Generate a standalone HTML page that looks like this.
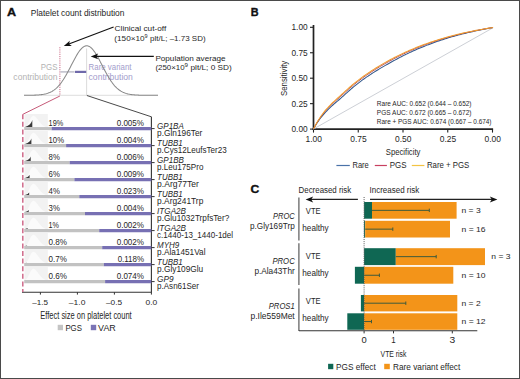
<!DOCTYPE html>
<html><head><meta charset="utf-8"><style>
html,body{margin:0;padding:0;background:#fff;}
svg{display:block;font-family:"Liberation Sans", sans-serif;}
</style></head><body>
<svg width="520" height="379" viewBox="0 0 520 379">
<rect x="0" y="0" width="520" height="379" fill="#fff"/>
<text x="6.94" y="16.30" font-size="11.2" fill="#111" textLength="9.12" lengthAdjust="spacingAndGlyphs" font-weight="bold" stroke="#111" stroke-width="0.35">A</text>
<text x="30.82" y="15.60" font-size="8.6" fill="#262626" textLength="93.61" lengthAdjust="spacingAndGlyphs" >Platelet count distribution</text>
<text x="40.79" y="70.30" font-size="8.2" fill="#b3b3b3" textLength="16.72" lengthAdjust="spacingAndGlyphs" >PGS</text>
<text x="13.39" y="80.00" font-size="8.2" fill="#b3b3b3" textLength="44.12" lengthAdjust="spacingAndGlyphs" >contribution</text>
<text x="88.59" y="70.00" font-size="8.2" fill="#a29dcc" textLength="42.92" lengthAdjust="spacingAndGlyphs" >Rare variant</text>
<text x="88.59" y="79.60" font-size="8.2" fill="#a29dcc" textLength="44.32" lengthAdjust="spacingAndGlyphs" >contribution</text>
<line x1="24.00" y1="95.30" x2="158.00" y2="95.30" stroke="#d9d9d9" stroke-width="0.9" />
<line x1="86.60" y1="48.50" x2="86.60" y2="95.30" stroke="#d8d8d8" stroke-width="0.9" />
<line x1="59.90" y1="47.20" x2="59.90" y2="95.30" stroke="#c96582" stroke-width="1.0" stroke-dasharray="1.1,1.1"/>
<line x1="60.40" y1="71.90" x2="74.60" y2="71.90" stroke="#b9b9c6" stroke-width="1.4" />
<line x1="75.00" y1="71.90" x2="86.20" y2="71.90" stroke="#6f69aa" stroke-width="2.2" />
<path d="M24.00,95.29 L24.67,95.29 L25.35,95.28 L26.02,95.28 L26.69,95.28 L27.37,95.27 L28.04,95.27 L28.71,95.26 L29.39,95.25 L30.06,95.24 L30.73,95.23 L31.41,95.22 L32.08,95.21 L32.75,95.19 L33.43,95.18 L34.10,95.16 L34.77,95.13 L35.45,95.11 L36.12,95.07 L36.79,95.04 L37.47,95.00 L38.14,94.96 L38.81,94.91 L39.49,94.85 L40.16,94.79 L40.83,94.71 L41.51,94.63 L42.18,94.54 L42.85,94.44 L43.53,94.33 L44.20,94.20 L44.87,94.06 L45.55,93.91 L46.22,93.74 L46.89,93.55 L47.57,93.34 L48.24,93.11 L48.91,92.86 L49.59,92.59 L50.26,92.29 L50.93,91.96 L51.61,91.61 L52.28,91.23 L52.95,90.81 L53.63,90.37 L54.30,89.89 L54.97,89.37 L55.65,88.82 L56.32,88.23 L56.99,87.60 L57.67,86.93 L58.34,86.22 L59.02,85.46 L59.69,84.67 L60.36,83.83 L61.04,82.95 L61.71,82.03 L62.38,81.07 L63.06,80.07 L63.73,79.03 L64.40,77.95 L65.08,76.83 L65.75,75.68 L66.42,74.50 L67.10,73.29 L67.77,72.05 L68.44,70.79 L69.12,69.51 L69.79,68.21 L70.46,66.91 L71.14,65.60 L71.81,64.28 L72.48,62.98 L73.16,61.68 L73.83,60.39 L74.50,59.13 L75.18,57.89 L75.85,56.68 L76.52,55.51 L77.20,54.38 L77.87,53.30 L78.54,52.28 L79.22,51.31 L79.89,50.41 L80.56,49.58 L81.24,48.82 L81.91,48.14 L82.58,47.54 L83.26,47.02 L83.93,46.59 L84.60,46.26 L85.28,46.01 L85.95,45.86 L86.62,45.80 L87.30,45.84 L87.97,45.97 L88.64,46.19 L89.32,46.51 L89.99,46.92 L90.66,47.41 L91.34,47.99 L92.01,48.66 L92.68,49.40 L93.36,50.22 L94.03,51.10 L94.70,52.05 L95.38,53.07 L96.05,54.13 L96.72,55.25 L97.40,56.41 L98.07,57.61 L98.74,58.84 L99.42,60.10 L100.09,61.38 L100.76,62.68 L101.44,63.99 L102.11,65.30 L102.78,66.61 L103.46,67.92 L104.13,69.21 L104.80,70.50 L105.48,71.76 L106.15,73.01 L106.82,74.22 L107.50,75.41 L108.17,76.57 L108.84,77.70 L109.52,78.78 L110.19,79.84 L110.86,80.85 L111.54,81.82 L112.21,82.75 L112.88,83.64 L113.56,84.48 L114.23,85.29 L114.90,86.05 L115.58,86.77 L116.25,87.45 L116.92,88.09 L117.60,88.69 L118.27,89.25 L118.94,89.77 L119.62,90.26 L120.29,90.71 L120.96,91.14 L121.64,91.52 L122.31,91.88 L122.98,92.22 L123.66,92.52 L124.33,92.80 L125.01,93.06 L125.68,93.29 L126.35,93.50 L127.03,93.69 L127.70,93.87 L128.37,94.03 L129.05,94.17 L129.72,94.30 L130.39,94.42 L131.07,94.52 L131.74,94.61 L132.41,94.70 L133.09,94.77 L133.76,94.84 L134.43,94.89 L135.11,94.95 L135.78,94.99 L136.45,95.03 L137.13,95.07 L137.80,95.10 L138.47,95.13 L139.15,95.15 L139.82,95.17 L140.49,95.19 L141.17,95.20 L141.84,95.22 L142.51,95.23 L143.19,95.24 L143.86,95.25 L144.53,95.26 L145.21,95.26 L145.88,95.27 L146.55,95.27 L147.23,95.28 L147.90,95.28 L148.57,95.28 L149.25,95.29 L149.92,95.29 L150.59,95.29 L151.27,95.29 L151.94,95.29 L152.61,95.29 L153.29,95.30 L153.96,95.30 L154.63,95.30 L155.31,95.30 L155.98,95.30 L156.65,95.30 L157.33,95.30 L158.00,95.30" fill="none" stroke="#8a8a8a" stroke-width="1.05" />
<line x1="113.60" y1="26.90" x2="67.53" y2="44.57" stroke="#111" stroke-width="1.1" />
<path d="M63.80,46.00 L69.80,40.70 L69.05,43.99 L71.81,45.93 Z" fill="#111" stroke="none" stroke-width="1" />
<line x1="153.80" y1="56.40" x2="94.70" y2="56.40" stroke="#111" stroke-width="1.1" />
<path d="M90.70,56.40 L98.20,53.60 L96.33,56.40 L98.20,59.20 Z" fill="#111" stroke="none" stroke-width="1" />
<text x="114.60" y="30.60" font-size="8.0" fill="#262626" textLength="51.60" lengthAdjust="spacingAndGlyphs" >Clinical cut-off</text>
<text x="114.30" y="40.70" font-size="8.0" fill="#262626" textLength="30.30" lengthAdjust="spacingAndGlyphs" >(150×10</text>
<text x="144.43" y="38.00" font-size="5.4" fill="#262626" textLength="3.04" lengthAdjust="spacingAndGlyphs" >9</text>
<text x="150.10" y="40.70" font-size="8.0" fill="#262626" textLength="55.50" lengthAdjust="spacingAndGlyphs" >plt/L; –1.73 SD)</text>
<text x="155.40" y="61.10" font-size="8.0" fill="#262626" textLength="70.10" lengthAdjust="spacingAndGlyphs" >Population average</text>
<text x="155.40" y="69.60" font-size="8.0" fill="#262626" textLength="29.20" lengthAdjust="spacingAndGlyphs" >(250×10</text>
<text x="184.43" y="66.90" font-size="5.4" fill="#262626" textLength="3.44" lengthAdjust="spacingAndGlyphs" >9</text>
<text x="190.50" y="69.60" font-size="8.0" fill="#262626" textLength="41.30" lengthAdjust="spacingAndGlyphs" >plt/L; 0 SD)</text>
<line x1="59.90" y1="96.00" x2="23.10" y2="114.20" stroke="#c65a78" stroke-width="1.0" />
<line x1="86.90" y1="95.50" x2="151.40" y2="116.80" stroke="#4a4a4a" stroke-width="1.0" />
<line x1="151.40" y1="116.80" x2="151.40" y2="292.20" stroke="#333" stroke-width="1.1" />
<line x1="22.00" y1="292.20" x2="151.90" y2="292.20" stroke="#333" stroke-width="1.1" />
<line x1="22.80" y1="114.20" x2="22.80" y2="292.00" stroke="#cf6a8a" stroke-width="1.5" stroke-dasharray="5,2.6"/>
<line x1="40.40" y1="292.20" x2="40.40" y2="294.60" stroke="#333" stroke-width="1" />
<text x="32.21" y="305.30" font-size="7.8" fill="#262626" textLength="15.78" lengthAdjust="spacingAndGlyphs" >–1.5</text>
<line x1="77.40" y1="292.20" x2="77.40" y2="294.60" stroke="#333" stroke-width="1" />
<text x="68.81" y="305.30" font-size="7.8" fill="#262626" textLength="16.58" lengthAdjust="spacingAndGlyphs" >–1.0</text>
<line x1="114.40" y1="292.20" x2="114.40" y2="294.60" stroke="#333" stroke-width="1" />
<text x="106.01" y="305.30" font-size="7.8" fill="#262626" textLength="16.18" lengthAdjust="spacingAndGlyphs" >–0.5</text>
<line x1="151.40" y1="292.20" x2="151.40" y2="294.60" stroke="#333" stroke-width="1" />
<text x="145.51" y="305.30" font-size="7.8" fill="#262626" textLength="11.78" lengthAdjust="spacingAndGlyphs" >0.0</text>
<rect x="24.50" y="114.00" width="23.30" height="13.00" fill="#f2f2f2" />
<path d="M25,127.00 C29,125.60 30,116.10 33.5,115.80 C37,116.10 40,125.60 46,127.00 Z" fill="#fbfbfb" stroke="none" stroke-width="1" />
<path d="M25.0,127.10 Q31.30,125.00 32.30,120.10 L32.30,127.10 Z" fill="#3a3a3a" stroke="none" stroke-width="1" />
<line x1="24.20" y1="128.60" x2="51.60" y2="128.60" stroke="#c2c2c2" stroke-width="3.1" />
<line x1="51.60" y1="128.60" x2="151.40" y2="128.60" stroke="#7770b3" stroke-width="3.1" />
<line x1="151.40" y1="128.60" x2="154.60" y2="128.60" stroke="#333" stroke-width="1" />
<text x="48.58" y="126.00" font-size="8.5" fill="#262626" textLength="14.65" lengthAdjust="spacingAndGlyphs" >19%</text>
<text x="116.67" y="126.00" font-size="8.5" fill="#262626" textLength="27.35" lengthAdjust="spacingAndGlyphs" >0.005%</text>
<text x="157.09" y="128.90" font-size="8.2" fill="#262626" textLength="26.72" lengthAdjust="spacingAndGlyphs" font-style="italic" >GP1BA</text>
<text x="157.09" y="135.80" font-size="8.2" fill="#262626" textLength="45.22" lengthAdjust="spacingAndGlyphs" >p.Gln196Ter</text>
<rect x="24.50" y="131.00" width="23.30" height="13.00" fill="#f2f2f2" />
<path d="M25,144.00 C29,142.60 30,133.10 33.5,132.80 C37,133.10 40,142.60 46,144.00 Z" fill="#fbfbfb" stroke="none" stroke-width="1" />
<path d="M25.0,144.10 Q30.38,142.45 31.38,138.60 L31.38,144.10 Z" fill="#3a3a3a" stroke="none" stroke-width="1" />
<line x1="24.20" y1="145.60" x2="66.10" y2="145.60" stroke="#c2c2c2" stroke-width="3.1" />
<line x1="66.10" y1="145.60" x2="151.40" y2="145.60" stroke="#7770b3" stroke-width="3.1" />
<line x1="151.40" y1="145.60" x2="154.60" y2="145.60" stroke="#333" stroke-width="1" />
<text x="48.58" y="143.00" font-size="8.5" fill="#262626" textLength="15.45" lengthAdjust="spacingAndGlyphs" >10%</text>
<text x="116.67" y="143.00" font-size="8.5" fill="#262626" textLength="27.35" lengthAdjust="spacingAndGlyphs" >0.004%</text>
<text x="157.09" y="145.90" font-size="8.2" fill="#262626" textLength="25.52" lengthAdjust="spacingAndGlyphs" font-style="italic" >TUBB1</text>
<text x="157.09" y="152.80" font-size="8.2" fill="#262626" textLength="69.62" lengthAdjust="spacingAndGlyphs" >p.Cys12LeufsTer23</text>
<rect x="24.50" y="148.00" width="23.30" height="13.00" fill="#f2f2f2" />
<path d="M25,161.00 C29,159.60 30,150.10 33.5,149.80 C37,150.10 40,159.60 46,161.00 Z" fill="#fbfbfb" stroke="none" stroke-width="1" />
<path d="M25.0,161.10 Q29.72,159.75 30.72,156.60 L30.72,161.10 Z" fill="#3a3a3a" stroke="none" stroke-width="1" />
<line x1="24.20" y1="162.60" x2="69.70" y2="162.60" stroke="#c2c2c2" stroke-width="3.1" />
<line x1="69.70" y1="162.60" x2="151.40" y2="162.60" stroke="#7770b3" stroke-width="3.1" />
<line x1="151.40" y1="162.60" x2="154.60" y2="162.60" stroke="#333" stroke-width="1" />
<text x="48.58" y="160.00" font-size="8.5" fill="#262626" textLength="11.25" lengthAdjust="spacingAndGlyphs" >8%</text>
<text x="116.67" y="160.00" font-size="8.5" fill="#262626" textLength="27.35" lengthAdjust="spacingAndGlyphs" >0.006%</text>
<text x="157.09" y="162.90" font-size="8.2" fill="#262626" textLength="26.82" lengthAdjust="spacingAndGlyphs" font-style="italic" >GP1BB</text>
<text x="157.09" y="169.80" font-size="8.2" fill="#262626" textLength="46.32" lengthAdjust="spacingAndGlyphs" >p.Leu175Pro</text>
<rect x="24.50" y="165.00" width="23.30" height="13.00" fill="#f2f2f2" />
<path d="M25,178.00 C29,176.60 30,167.10 33.5,166.80 C37,167.10 40,176.60 46,178.00 Z" fill="#fbfbfb" stroke="none" stroke-width="1" />
<path d="M25.0,178.10 Q28.59,177.20 29.59,175.10 L29.59,178.10 Z" fill="#3a3a3a" stroke="none" stroke-width="1" />
<line x1="24.20" y1="179.60" x2="74.40" y2="179.60" stroke="#c2c2c2" stroke-width="3.1" />
<line x1="74.40" y1="179.60" x2="151.40" y2="179.60" stroke="#7770b3" stroke-width="3.1" />
<line x1="151.40" y1="179.60" x2="154.60" y2="179.60" stroke="#333" stroke-width="1" />
<text x="48.58" y="177.00" font-size="8.5" fill="#262626" textLength="11.25" lengthAdjust="spacingAndGlyphs" >6%</text>
<text x="116.67" y="177.00" font-size="8.5" fill="#262626" textLength="27.35" lengthAdjust="spacingAndGlyphs" >0.009%</text>
<text x="157.09" y="179.90" font-size="8.2" fill="#262626" textLength="25.52" lengthAdjust="spacingAndGlyphs" font-style="italic" >TUBB1</text>
<text x="157.09" y="186.80" font-size="8.2" fill="#262626" textLength="41.82" lengthAdjust="spacingAndGlyphs" >p.Arg77Ter</text>
<rect x="24.50" y="182.00" width="23.30" height="13.00" fill="#f2f2f2" />
<path d="M25,195.00 C29,193.60 30,184.10 33.5,183.80 C37,184.10 40,193.60 46,195.00 Z" fill="#fbfbfb" stroke="none" stroke-width="1" />
<path d="M25.0,195.10 Q28.17,194.35 29.17,192.60 L29.17,195.10 Z" fill="#3a3a3a" stroke="none" stroke-width="1" />
<line x1="24.20" y1="196.60" x2="79.30" y2="196.60" stroke="#c2c2c2" stroke-width="3.1" />
<line x1="79.30" y1="196.60" x2="151.40" y2="196.60" stroke="#7770b3" stroke-width="3.1" />
<line x1="151.40" y1="196.60" x2="154.60" y2="196.60" stroke="#333" stroke-width="1" />
<text x="48.58" y="194.00" font-size="8.5" fill="#262626" textLength="11.25" lengthAdjust="spacingAndGlyphs" >4%</text>
<text x="116.67" y="194.00" font-size="8.5" fill="#262626" textLength="27.35" lengthAdjust="spacingAndGlyphs" >0.023%</text>
<text x="157.09" y="196.90" font-size="8.2" fill="#262626" textLength="25.52" lengthAdjust="spacingAndGlyphs" font-style="italic" >TUBB1</text>
<text x="157.09" y="203.80" font-size="8.2" fill="#262626" textLength="46.22" lengthAdjust="spacingAndGlyphs" >p.Arg241Trp</text>
<rect x="24.50" y="199.00" width="23.30" height="13.00" fill="#f2f2f2" />
<path d="M25,212.00 C29,210.60 30,201.10 33.5,200.80 C37,201.10 40,210.60 46,212.00 Z" fill="#fbfbfb" stroke="none" stroke-width="1" />
<path d="M25.0,212.10 Q27.71,211.50 28.71,210.10 L28.71,212.10 Z" fill="#3a3a3a" stroke="none" stroke-width="1" />
<line x1="24.20" y1="213.60" x2="85.00" y2="213.60" stroke="#c2c2c2" stroke-width="3.1" />
<line x1="85.00" y1="213.60" x2="151.40" y2="213.60" stroke="#7770b3" stroke-width="3.1" />
<line x1="151.40" y1="213.60" x2="154.60" y2="213.60" stroke="#333" stroke-width="1" />
<text x="48.58" y="211.00" font-size="8.5" fill="#262626" textLength="11.25" lengthAdjust="spacingAndGlyphs" >3%</text>
<text x="116.67" y="211.00" font-size="8.5" fill="#262626" textLength="27.35" lengthAdjust="spacingAndGlyphs" >0.004%</text>
<text x="157.09" y="213.90" font-size="8.2" fill="#262626" textLength="28.92" lengthAdjust="spacingAndGlyphs" font-style="italic" >ITGA2B</text>
<text x="157.09" y="220.80" font-size="8.2" fill="#262626" textLength="72.12" lengthAdjust="spacingAndGlyphs" >p.Glu1032TrpfsTer?</text>
<rect x="24.50" y="216.00" width="23.30" height="13.00" fill="#f2f2f2" />
<path d="M25,229.00 C29,227.60 30,218.10 33.5,217.80 C37,218.10 40,227.60 46,229.00 Z" fill="#fbfbfb" stroke="none" stroke-width="1" />
<path d="M25.0,229.10 Q26.62,228.80 27.62,228.10 L27.62,229.10 Z" fill="#3a3a3a" stroke="none" stroke-width="1" />
<line x1="24.20" y1="230.60" x2="99.20" y2="230.60" stroke="#c2c2c2" stroke-width="3.1" />
<line x1="99.20" y1="230.60" x2="151.40" y2="230.60" stroke="#7770b3" stroke-width="3.1" />
<line x1="151.40" y1="230.60" x2="154.60" y2="230.60" stroke="#333" stroke-width="1" />
<text x="48.58" y="228.00" font-size="8.5" fill="#262626" textLength="10.45" lengthAdjust="spacingAndGlyphs" >1%</text>
<text x="116.67" y="228.00" font-size="8.5" fill="#262626" textLength="27.35" lengthAdjust="spacingAndGlyphs" >0.002%</text>
<text x="157.09" y="230.90" font-size="8.2" fill="#262626" textLength="28.92" lengthAdjust="spacingAndGlyphs" font-style="italic" >ITGA2B</text>
<text x="157.09" y="237.80" font-size="8.2" fill="#262626" textLength="76.02" lengthAdjust="spacingAndGlyphs" >c.1440-13_1440-1del</text>
<rect x="24.50" y="233.00" width="23.30" height="13.00" fill="#f2f2f2" />
<path d="M25,246.00 C29,244.60 30,235.10 33.5,234.80 C37,235.10 40,244.60 46,246.00 Z" fill="#fbfbfb" stroke="none" stroke-width="1" />
<path d="M25.0,246.10 Q26.06,245.92 27.06,245.50 L27.06,246.10 Z" fill="#3a3a3a" stroke="none" stroke-width="1" />
<line x1="24.20" y1="247.60" x2="102.20" y2="247.60" stroke="#c2c2c2" stroke-width="3.1" />
<line x1="102.20" y1="247.60" x2="151.40" y2="247.60" stroke="#7770b3" stroke-width="3.1" />
<line x1="151.40" y1="247.60" x2="154.60" y2="247.60" stroke="#333" stroke-width="1" />
<text x="48.58" y="245.00" font-size="8.5" fill="#262626" textLength="18.45" lengthAdjust="spacingAndGlyphs" >0.8%</text>
<text x="116.67" y="245.00" font-size="8.5" fill="#262626" textLength="27.35" lengthAdjust="spacingAndGlyphs" >0.002%</text>
<text x="157.09" y="247.90" font-size="8.2" fill="#262626" textLength="22.22" lengthAdjust="spacingAndGlyphs" font-style="italic" >MYH9</text>
<text x="157.09" y="254.80" font-size="8.2" fill="#262626" textLength="48.42" lengthAdjust="spacingAndGlyphs" >p.Ala1451Val</text>
<rect x="24.50" y="250.00" width="23.30" height="13.00" fill="#f2f2f2" />
<path d="M25,263.00 C29,261.60 30,252.10 33.5,251.80 C37,252.10 40,261.60 46,263.00 Z" fill="#fbfbfb" stroke="none" stroke-width="1" />
<path d="M25.0,263.10 Q25.72,262.98 26.72,262.70 L26.72,263.10 Z" fill="#3a3a3a" stroke="none" stroke-width="1" />
<line x1="24.20" y1="264.60" x2="103.80" y2="264.60" stroke="#c2c2c2" stroke-width="3.1" />
<line x1="103.80" y1="264.60" x2="151.40" y2="264.60" stroke="#7770b3" stroke-width="3.1" />
<line x1="151.40" y1="264.60" x2="154.60" y2="264.60" stroke="#333" stroke-width="1" />
<text x="48.58" y="262.00" font-size="8.5" fill="#262626" textLength="18.25" lengthAdjust="spacingAndGlyphs" >0.7%</text>
<text x="117.67" y="262.00" font-size="8.5" fill="#262626" textLength="26.35" lengthAdjust="spacingAndGlyphs" >0.118%</text>
<text x="157.09" y="264.90" font-size="8.2" fill="#262626" textLength="25.52" lengthAdjust="spacingAndGlyphs" font-style="italic" >TUBB1</text>
<text x="157.09" y="271.80" font-size="8.2" fill="#262626" textLength="46.12" lengthAdjust="spacingAndGlyphs" >p.Gly109Glu</text>
<rect x="24.50" y="267.00" width="23.30" height="13.00" fill="#f2f2f2" />
<path d="M25,280.00 C29,278.60 30,269.10 33.5,268.80 C37,269.10 40,278.60 46,280.00 Z" fill="#fbfbfb" stroke="none" stroke-width="1" />
<line x1="24.20" y1="281.60" x2="105.10" y2="281.60" stroke="#c2c2c2" stroke-width="3.1" />
<line x1="105.10" y1="281.60" x2="151.40" y2="281.60" stroke="#7770b3" stroke-width="3.1" />
<line x1="151.40" y1="281.60" x2="154.60" y2="281.60" stroke="#333" stroke-width="1" />
<text x="48.58" y="279.00" font-size="8.5" fill="#262626" textLength="18.45" lengthAdjust="spacingAndGlyphs" >0.6%</text>
<text x="116.67" y="279.00" font-size="8.5" fill="#262626" textLength="27.35" lengthAdjust="spacingAndGlyphs" >0.074%</text>
<text x="157.09" y="281.90" font-size="8.2" fill="#262626" textLength="16.52" lengthAdjust="spacingAndGlyphs" font-style="italic" >GP9</text>
<text x="157.09" y="288.80" font-size="8.2" fill="#262626" textLength="41.92" lengthAdjust="spacingAndGlyphs" >p.Asn61Ser</text>
<text x="40.30" y="318.70" font-size="10.0" fill="#262626" textLength="91.40" lengthAdjust="spacingAndGlyphs" >Effect size on platelet count</text>
<rect x="57.70" y="324.80" width="5.30" height="5.40" fill="#c4c4c4" />
<text x="65.38" y="330.60" font-size="8.4" fill="#262626" textLength="16.54" lengthAdjust="spacingAndGlyphs" >PGS</text>
<rect x="90.80" y="324.80" width="5.40" height="5.40" fill="#7b74b5" />
<text x="98.08" y="330.60" font-size="8.4" fill="#262626" textLength="17.74" lengthAdjust="spacingAndGlyphs" >VAR</text>
<text x="250.70" y="16.25" font-size="11.0" fill="#111" textLength="7.85" lengthAdjust="spacingAndGlyphs" font-weight="bold" stroke="#111" stroke-width="0.35">B</text>
<line x1="313.50" y1="25.00" x2="313.50" y2="130.00" stroke="#222" stroke-width="1.7" />
<line x1="312.60" y1="129.10" x2="493.10" y2="129.10" stroke="#222" stroke-width="1.7" />
<line x1="310.00" y1="129.10" x2="313.50" y2="129.10" stroke="#222" stroke-width="1.1" />
<text x="291.48" y="132.00" font-size="8.4" fill="#262626" textLength="16.14" lengthAdjust="spacingAndGlyphs" >0.00</text>
<line x1="310.00" y1="103.65" x2="313.50" y2="103.65" stroke="#222" stroke-width="1.1" />
<text x="291.48" y="106.55" font-size="8.4" fill="#262626" textLength="16.14" lengthAdjust="spacingAndGlyphs" >0.25</text>
<line x1="310.00" y1="78.20" x2="313.50" y2="78.20" stroke="#222" stroke-width="1.1" />
<text x="291.48" y="81.10" font-size="8.4" fill="#262626" textLength="16.14" lengthAdjust="spacingAndGlyphs" >0.50</text>
<line x1="310.00" y1="52.75" x2="313.50" y2="52.75" stroke="#222" stroke-width="1.1" />
<text x="291.48" y="55.65" font-size="8.4" fill="#262626" textLength="16.14" lengthAdjust="spacingAndGlyphs" >0.75</text>
<line x1="310.00" y1="27.30" x2="313.50" y2="27.30" stroke="#222" stroke-width="1.1" />
<text x="291.48" y="30.20" font-size="8.4" fill="#262626" textLength="16.14" lengthAdjust="spacingAndGlyphs" >1.00</text>
<line x1="313.50" y1="129.10" x2="313.50" y2="132.60" stroke="#222" stroke-width="1.1" />
<text x="305.58" y="142.30" font-size="8.4" fill="#262626" textLength="16.44" lengthAdjust="spacingAndGlyphs" >1.00</text>
<line x1="358.25" y1="129.10" x2="358.25" y2="132.60" stroke="#222" stroke-width="1.1" />
<text x="350.33" y="142.30" font-size="8.4" fill="#262626" textLength="16.44" lengthAdjust="spacingAndGlyphs" >0.75</text>
<line x1="403.00" y1="129.10" x2="403.00" y2="132.60" stroke="#222" stroke-width="1.1" />
<text x="395.08" y="142.30" font-size="8.4" fill="#262626" textLength="16.44" lengthAdjust="spacingAndGlyphs" >0.50</text>
<line x1="447.75" y1="129.10" x2="447.75" y2="132.60" stroke="#222" stroke-width="1.1" />
<text x="439.83" y="142.30" font-size="8.4" fill="#262626" textLength="16.44" lengthAdjust="spacingAndGlyphs" >0.25</text>
<line x1="492.50" y1="129.10" x2="492.50" y2="132.60" stroke="#222" stroke-width="1.1" />
<text x="484.58" y="142.30" font-size="8.4" fill="#262626" textLength="16.44" lengthAdjust="spacingAndGlyphs" >0.00</text>
<g transform="translate(286.8 95.5) rotate(-90)">
<text x="-0.49" y="0.00" font-size="9.8" fill="#262626" textLength="35.28" lengthAdjust="spacingAndGlyphs" >Sensitivity</text>
</g>
<text x="385.77" y="155.40" font-size="9.6" fill="#262626" textLength="34.61" lengthAdjust="spacingAndGlyphs" >Specificity</text>
<line x1="313.50" y1="129.00" x2="493.30" y2="27.60" stroke="#cdd0d6" stroke-width="1" />
<path d="M313.50,129.00 L314.79,126.66 L316.08,124.50 L317.37,122.47 L318.67,120.58 L319.96,118.80 L321.25,117.13 L322.54,115.57 L323.83,114.10 L325.12,112.71 L326.41,111.27 L327.71,109.91 L329.00,108.61 L330.29,107.36 L331.58,106.16 L332.87,105.00 L334.16,103.87 L335.45,102.76 L336.74,101.67 L338.04,100.59 L339.33,99.50 L340.62,98.37 L341.91,97.19 L343.20,96.02 L344.49,94.85 L345.78,93.68 L347.08,92.53 L348.37,91.38 L349.66,90.24 L350.95,89.12 L352.24,88.02 L353.53,86.93 L354.82,85.86 L356.12,84.82 L357.41,83.80 L358.70,82.80 L359.99,81.82 L361.28,80.86 L362.57,79.92 L363.86,78.99 L365.15,78.08 L366.45,77.19 L367.74,76.31 L369.03,75.44 L370.32,74.59 L371.61,73.75 L372.90,72.91 L374.19,72.09 L375.49,71.28 L376.78,70.48 L378.07,69.69 L379.36,68.90 L380.65,68.13 L381.94,67.37 L383.23,66.62 L384.53,65.88 L385.82,65.15 L387.11,64.43 L388.40,63.71 L389.69,63.01 L390.98,62.28 L392.27,61.55 L393.56,60.83 L394.86,60.12 L396.15,59.42 L397.44,58.72 L398.73,58.04 L400.02,57.36 L401.31,56.69 L402.60,56.04 L403.90,55.39 L405.19,54.75 L406.48,54.11 L407.77,53.49 L409.06,52.87 L410.35,52.26 L411.64,51.67 L412.94,51.07 L414.23,50.49 L415.52,49.92 L416.81,49.35 L418.10,48.80 L419.39,48.25 L420.68,47.72 L421.97,47.18 L423.27,46.66 L424.56,46.14 L425.85,45.63 L427.14,45.13 L428.43,44.64 L429.72,44.15 L431.01,43.67 L432.31,43.19 L433.60,42.73 L434.89,42.27 L436.18,41.81 L437.47,41.36 L438.76,40.92 L440.05,40.49 L441.35,40.06 L442.64,39.64 L443.93,39.22 L445.22,38.81 L446.51,38.41 L447.80,38.01 L449.09,37.61 L450.38,37.23 L451.68,36.86 L452.97,36.50 L454.26,36.14 L455.55,35.78 L456.84,35.43 L458.13,35.09 L459.42,34.75 L460.72,34.42 L462.01,34.09 L463.30,33.77 L464.59,33.45 L465.88,33.13 L467.17,32.82 L468.46,32.52 L469.76,32.22 L471.05,31.92 L472.34,31.63 L473.63,31.34 L474.92,31.06 L476.21,30.78 L477.50,30.51 L478.79,30.24 L480.09,29.97 L481.38,29.71 L482.67,29.45 L483.96,29.19 L485.25,28.94 L486.54,28.69 L487.83,28.44 L489.13,28.20 L490.42,27.96 L491.71,27.73 L493.00,27.50" fill="none" stroke="#34598c" stroke-width="1.05" />
<path d="M313.50,129.00 L314.79,126.52 L316.08,124.21 L317.37,122.04 L318.67,119.99 L319.96,118.07 L321.25,116.26 L322.54,114.55 L323.83,112.94 L325.12,111.41 L326.41,109.91 L327.71,108.49 L329.00,107.13 L330.29,105.83 L331.58,104.57 L332.87,103.36 L334.16,102.17 L335.45,101.01 L336.74,99.86 L338.04,98.72 L339.33,97.58 L340.62,96.42 L341.91,95.24 L343.20,94.07 L344.49,92.90 L345.78,91.73 L347.08,90.58 L348.37,89.43 L349.66,88.29 L350.95,87.17 L352.24,86.07 L353.53,84.98 L354.82,83.91 L356.12,82.87 L357.41,81.85 L358.70,80.85 L359.99,79.87 L361.28,78.91 L362.57,77.97 L363.86,77.04 L365.15,76.13 L366.45,75.24 L367.74,74.36 L369.03,73.49 L370.32,72.64 L371.61,71.80 L372.90,70.96 L374.19,70.14 L375.49,69.33 L376.78,68.53 L378.07,67.74 L379.36,66.95 L380.65,66.18 L381.94,65.42 L383.23,64.67 L384.53,63.93 L385.82,63.20 L387.11,62.48 L388.40,61.76 L389.69,61.06 L390.98,60.36 L392.27,59.66 L393.56,58.96 L394.86,58.28 L396.15,57.61 L397.44,56.95 L398.73,56.29 L400.02,55.65 L401.31,55.01 L402.60,54.38 L403.90,53.76 L405.19,53.15 L406.48,52.55 L407.77,51.95 L409.06,51.37 L410.35,50.79 L411.64,50.22 L412.94,49.66 L414.23,49.11 L415.52,48.56 L416.81,48.03 L418.10,47.50 L419.39,46.98 L420.68,46.47 L421.97,45.96 L423.27,45.46 L424.56,44.97 L425.85,44.49 L427.14,44.01 L428.43,43.55 L429.72,43.08 L431.01,42.63 L432.31,42.18 L433.60,41.74 L434.89,41.31 L436.18,40.88 L437.47,40.46 L438.76,40.04 L440.05,39.63 L441.35,39.23 L442.64,38.84 L443.93,38.45 L445.22,38.06 L446.51,37.68 L447.80,37.31 L449.09,36.95 L450.38,36.59 L451.68,36.24 L452.97,35.89 L454.26,35.55 L455.55,35.22 L456.84,34.89 L458.13,34.56 L459.42,34.24 L460.72,33.93 L462.01,33.62 L463.30,33.32 L464.59,33.02 L465.88,32.72 L467.17,32.43 L468.46,32.15 L469.76,31.87 L471.05,31.59 L472.34,31.32 L473.63,31.05 L474.92,30.79 L476.21,30.53 L477.50,30.27 L478.79,30.02 L480.09,29.77 L481.38,29.53 L482.67,29.29 L483.96,29.05 L485.25,28.82 L486.54,28.59 L487.83,28.37 L489.13,28.14 L490.42,27.92 L491.71,27.71 L493.00,27.50" fill="none" stroke="#a8384a" stroke-width="0.9" />
<path d="M313.50,129.00 L314.79,126.44 L316.08,124.05 L317.37,121.80 L318.67,119.68 L319.96,117.67 L321.25,115.78 L322.54,114.00 L323.83,112.31 L325.12,110.70 L326.41,109.18 L327.71,107.73 L329.00,106.34 L330.29,105.01 L331.58,103.72 L332.87,102.47 L334.16,101.26 L335.45,100.07 L336.74,98.89 L338.04,97.72 L339.33,96.55 L340.62,95.37 L341.91,94.19 L343.20,93.02 L344.49,91.85 L345.78,90.68 L347.08,89.53 L348.37,88.38 L349.66,87.24 L350.95,86.12 L352.24,85.02 L353.53,83.93 L354.82,82.86 L356.12,81.82 L357.41,80.80 L358.70,79.80 L359.99,78.82 L361.28,77.86 L362.57,76.92 L363.86,75.99 L365.15,75.08 L366.45,74.19 L367.74,73.31 L369.03,72.44 L370.32,71.59 L371.61,70.75 L372.90,69.91 L374.19,69.09 L375.49,68.28 L376.78,67.48 L378.07,66.69 L379.36,65.90 L380.65,65.13 L381.94,64.37 L383.23,63.62 L384.53,62.88 L385.82,62.15 L387.11,61.43 L388.40,60.71 L389.69,60.01 L390.98,59.32 L392.27,58.63 L393.56,57.96 L394.86,57.29 L396.15,56.64 L397.44,55.99 L398.73,55.35 L400.02,54.72 L401.31,54.10 L402.60,53.49 L403.90,52.89 L405.19,52.29 L406.48,51.71 L407.77,51.13 L409.06,50.56 L410.35,50.00 L411.64,49.44 L412.94,48.90 L414.23,48.36 L415.52,47.83 L416.81,47.31 L418.10,46.80 L419.39,46.29 L420.68,45.79 L421.97,45.30 L423.27,44.82 L424.56,44.34 L425.85,43.88 L427.14,43.41 L428.43,42.96 L429.72,42.51 L431.01,42.07 L432.31,41.64 L433.60,41.21 L434.89,40.79 L436.18,40.38 L437.47,39.97 L438.76,39.57 L440.05,39.17 L441.35,38.79 L442.64,38.40 L443.93,38.03 L445.22,37.66 L446.51,37.30 L447.80,36.94 L449.09,36.59 L450.38,36.24 L451.68,35.90 L452.97,35.56 L454.26,35.24 L455.55,34.91 L456.84,34.59 L458.13,34.28 L459.42,33.97 L460.72,33.67 L462.01,33.37 L463.30,33.07 L464.59,32.79 L465.88,32.50 L467.17,32.22 L468.46,31.95 L469.76,31.68 L471.05,31.41 L472.34,31.15 L473.63,30.89 L474.92,30.64 L476.21,30.39 L477.50,30.15 L478.79,29.91 L480.09,29.67 L481.38,29.44 L482.67,29.21 L483.96,28.98 L485.25,28.76 L486.54,28.54 L487.83,28.32 L489.13,28.11 L490.42,27.90 L491.71,27.70 L493.00,27.50" fill="none" stroke="#f29d2c" stroke-width="1.05" />
<text x="376.88" y="106.10" font-size="6.4" fill="#262626" textLength="94.64" lengthAdjust="spacingAndGlyphs" >Rare AUC: 0.652 (0.644 – 0.652)</text>
<text x="376.88" y="115.20" font-size="6.4" fill="#262626" textLength="94.64" lengthAdjust="spacingAndGlyphs" >PGS AUC: 0.672 (0.665 – 0.672)</text>
<text x="376.88" y="124.20" font-size="6.4" fill="#262626" textLength="114.64" lengthAdjust="spacingAndGlyphs" >Rare + PGS AUC: 0.674 (0.667 – 0.674)</text>
<line x1="336.40" y1="165.50" x2="349.80" y2="165.50" stroke="#4a72a8" stroke-width="1.2" />
<text x="352.47" y="167.50" font-size="8.6" fill="#262626" textLength="16.36" lengthAdjust="spacingAndGlyphs" >Rare</text>
<line x1="374.80" y1="165.50" x2="386.90" y2="165.50" stroke="#c84060" stroke-width="1.2" />
<text x="389.77" y="167.50" font-size="8.6" fill="#262626" textLength="16.76" lengthAdjust="spacingAndGlyphs" >PGS</text>
<line x1="411.80" y1="165.50" x2="424.40" y2="165.50" stroke="#f3c443" stroke-width="1.2" />
<text x="426.97" y="167.50" font-size="8.6" fill="#262626" textLength="42.36" lengthAdjust="spacingAndGlyphs" >Rare + PGS</text>
<text x="250.44" y="193.30" font-size="11.2" fill="#111" textLength="8.82" lengthAdjust="spacingAndGlyphs" font-weight="bold" stroke="#111" stroke-width="0.35">C</text>
<text x="298.58" y="192.70" font-size="8.4" fill="#262626" textLength="52.64" lengthAdjust="spacingAndGlyphs" >Decreased risk</text>
<text x="369.58" y="192.50" font-size="8.4" fill="#262626" textLength="49.64" lengthAdjust="spacingAndGlyphs" >Increased risk</text>
<line x1="310.00" y1="199.40" x2="357.90" y2="199.40" stroke="#222" stroke-width="1.1" />
<path d="M305.6,199.4 L313.2,196.4 L311.2,199.4 L313.2,202.4 Z" fill="#111" stroke="none" stroke-width="1" />
<line x1="370.00" y1="199.40" x2="492.00" y2="199.40" stroke="#222" stroke-width="1.1" />
<path d="M497.4,199.4 L489.8,196.4 L491.8,199.4 L489.8,202.4 Z" fill="#111" stroke="none" stroke-width="1" />
<line x1="298.90" y1="197.60" x2="298.90" y2="240.60" stroke="#5a5a5a" stroke-width="1.2" />
<line x1="298.90" y1="243.20" x2="298.90" y2="284.90" stroke="#5a5a5a" stroke-width="1.2" />
<line x1="298.90" y1="288.40" x2="298.90" y2="331.00" stroke="#5a5a5a" stroke-width="1.2" />
<line x1="298.90" y1="330.80" x2="477.30" y2="330.80" stroke="#333" stroke-width="1.1" />
<line x1="364.10" y1="331.00" x2="364.10" y2="333.40" stroke="#333" stroke-width="1" />
<text x="361.48" y="343.20" font-size="8.4" fill="#262626" textLength="5.24" lengthAdjust="spacingAndGlyphs" >0</text>
<line x1="393.50" y1="331.00" x2="393.50" y2="333.40" stroke="#333" stroke-width="1" />
<text x="391.28" y="343.20" font-size="8.4" fill="#262626" textLength="4.44" lengthAdjust="spacingAndGlyphs" >1</text>
<line x1="452.30" y1="331.00" x2="452.30" y2="333.40" stroke="#333" stroke-width="1" />
<text x="449.43" y="343.20" font-size="8.4" fill="#262626" textLength="5.74" lengthAdjust="spacingAndGlyphs" >3</text>
<rect x="364.10" y="202.00" width="7.90" height="16.70" fill="#0f6753" />
<rect x="372.00" y="202.00" width="84.60" height="16.70" fill="#f39419" />
<line x1="372.00" y1="210.35" x2="429.30" y2="210.35" stroke="#3f5a3c" stroke-width="1.0" />
<line x1="429.30" y1="208.65" x2="429.30" y2="212.05" stroke="#3f5a3c" stroke-width="1.0" />
<text x="461.50" y="212.75" font-size="8.0" fill="#262626" textLength="19.20" lengthAdjust="spacingAndGlyphs" >n = 3</text>
<rect x="364.10" y="220.80" width="1.10" height="16.70" fill="#0f6753" />
<rect x="365.20" y="220.80" width="84.80" height="16.70" fill="#f39419" />
<line x1="365.20" y1="229.15" x2="392.80" y2="229.15" stroke="#3f5a3c" stroke-width="1.0" />
<line x1="392.80" y1="227.45" x2="392.80" y2="230.85" stroke="#3f5a3c" stroke-width="1.0" />
<text x="461.50" y="231.55" font-size="8.0" fill="#262626" textLength="24.00" lengthAdjust="spacingAndGlyphs" >n = 16</text>
<rect x="364.10" y="248.20" width="31.70" height="16.90" fill="#0f6753" />
<rect x="395.80" y="248.20" width="89.20" height="16.90" fill="#f39419" />
<line x1="395.80" y1="256.65" x2="436.20" y2="256.65" stroke="#3f5a3c" stroke-width="1.0" />
<line x1="436.20" y1="254.95" x2="436.20" y2="258.35" stroke="#3f5a3c" stroke-width="1.0" />
<text x="491.30" y="259.05" font-size="8.0" fill="#262626" textLength="19.20" lengthAdjust="spacingAndGlyphs" >n = 3</text>
<rect x="354.90" y="266.80" width="9.20" height="16.90" fill="#0f6753" />
<rect x="364.10" y="266.80" width="89.20" height="16.90" fill="#f39419" />
<line x1="364.10" y1="275.25" x2="379.40" y2="275.25" stroke="#3f5a3c" stroke-width="1.0" />
<line x1="379.40" y1="273.55" x2="379.40" y2="276.95" stroke="#3f5a3c" stroke-width="1.0" />
<text x="461.50" y="277.65" font-size="8.0" fill="#262626" textLength="24.00" lengthAdjust="spacingAndGlyphs" >n = 10</text>
<rect x="360.90" y="295.00" width="3.20" height="16.40" fill="#0f6753" />
<rect x="364.10" y="295.00" width="93.20" height="16.40" fill="#f39419" />
<line x1="364.10" y1="303.20" x2="405.80" y2="303.20" stroke="#3f5a3c" stroke-width="1.0" />
<line x1="405.80" y1="301.50" x2="405.80" y2="304.90" stroke="#3f5a3c" stroke-width="1.0" />
<text x="461.50" y="305.60" font-size="8.0" fill="#262626" textLength="19.20" lengthAdjust="spacingAndGlyphs" >n = 2</text>
<rect x="347.30" y="313.30" width="16.80" height="16.50" fill="#0f6753" />
<rect x="364.10" y="313.30" width="93.20" height="16.50" fill="#f39419" />
<line x1="364.10" y1="321.55" x2="371.50" y2="321.55" stroke="#3f5a3c" stroke-width="1.0" />
<line x1="371.50" y1="319.85" x2="371.50" y2="323.25" stroke="#3f5a3c" stroke-width="1.0" />
<text x="461.50" y="323.95" font-size="8.0" fill="#262626" textLength="24.00" lengthAdjust="spacingAndGlyphs" >n = 12</text>
<line x1="364.10" y1="197.00" x2="364.10" y2="331.00" stroke="#4a4a4a" stroke-width="0.9" stroke-dasharray="1,1.1"/>
<text x="272.98" y="219.40" font-size="8.4" fill="#262626" textLength="21.74" lengthAdjust="spacingAndGlyphs" font-style="italic" >PROC</text>
<text x="249.98" y="228.50" font-size="8.4" fill="#262626" textLength="44.74" lengthAdjust="spacingAndGlyphs" >p.Gly169Trp</text>
<text x="272.38" y="264.40" font-size="8.4" fill="#262626" textLength="22.34" lengthAdjust="spacingAndGlyphs" font-style="italic" >PROC</text>
<text x="254.38" y="274.30" font-size="8.4" fill="#262626" textLength="40.34" lengthAdjust="spacingAndGlyphs" >p.Ala43Thr</text>
<text x="268.78" y="308.80" font-size="8.4" fill="#262626" textLength="25.94" lengthAdjust="spacingAndGlyphs" font-style="italic" >PROS1</text>
<text x="250.58" y="319.30" font-size="8.4" fill="#262626" textLength="44.14" lengthAdjust="spacingAndGlyphs" >p.Ile559Met</text>
<text x="305.87" y="213.50" font-size="8.6" fill="#262626" textLength="14.76" lengthAdjust="spacingAndGlyphs" >VTE</text>
<text x="302.29" y="230.80" font-size="8.2" fill="#262626" textLength="26.42" lengthAdjust="spacingAndGlyphs" >healthy</text>
<text x="305.87" y="258.50" font-size="8.6" fill="#262626" textLength="14.76" lengthAdjust="spacingAndGlyphs" >VTE</text>
<text x="302.29" y="275.90" font-size="8.2" fill="#262626" textLength="26.42" lengthAdjust="spacingAndGlyphs" >healthy</text>
<text x="305.87" y="303.50" font-size="8.6" fill="#262626" textLength="14.76" lengthAdjust="spacingAndGlyphs" >VTE</text>
<text x="302.29" y="321.30" font-size="8.2" fill="#262626" textLength="26.42" lengthAdjust="spacingAndGlyphs" >healthy</text>
<text x="380.62" y="357.00" font-size="9.6" fill="#262626" textLength="25.76" lengthAdjust="spacingAndGlyphs" >VTE risk</text>
<rect x="328.10" y="363.80" width="5.20" height="5.40" fill="#0f6753" />
<text x="335.97" y="370.00" font-size="8.6" fill="#262626" textLength="39.76" lengthAdjust="spacingAndGlyphs" >PGS effect</text>
<rect x="384.20" y="363.80" width="5.60" height="5.40" fill="#f39419" />
<text x="393.07" y="370.00" font-size="8.6" fill="#262626" textLength="67.16" lengthAdjust="spacingAndGlyphs" >Rare variant effect</text>
<rect x="0.5" y="0.5" width="519" height="378" fill="none" stroke="#4a4a4a" stroke-width="1"/>
</svg>
</body></html>
